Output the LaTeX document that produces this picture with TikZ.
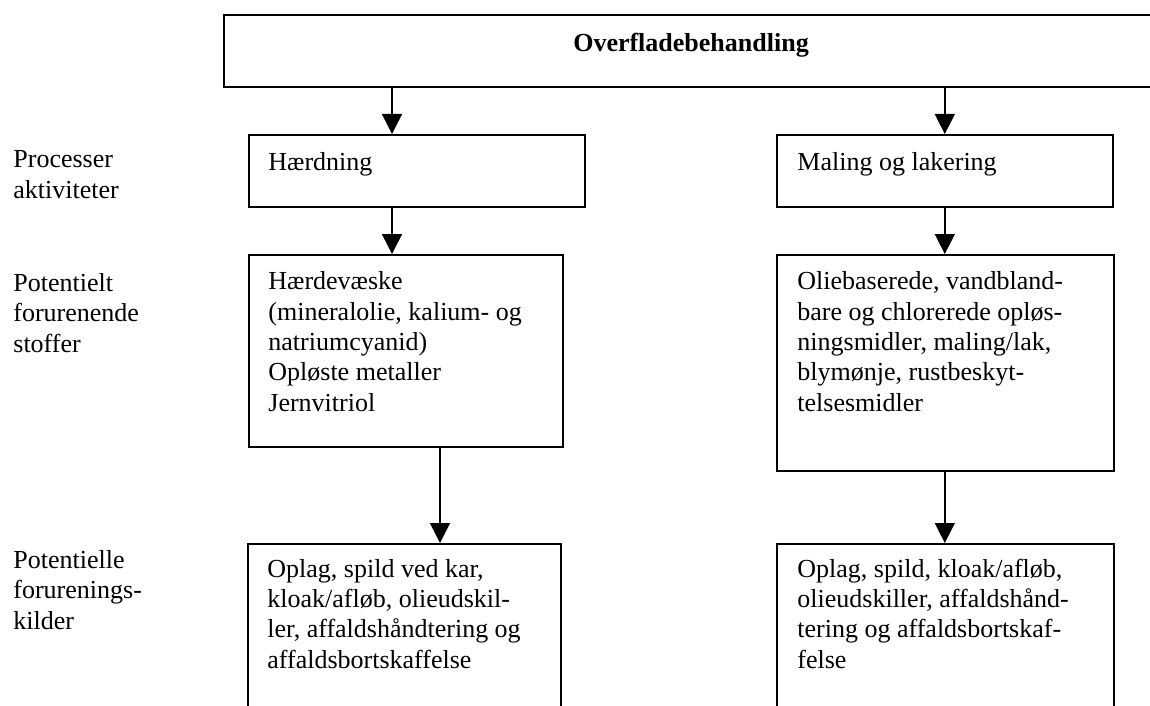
\documentclass[tikz,border=0pt]{standalone}
\usepackage{fontspec}
\setmainfont{Liberation Serif}
\usepackage{tikz}
\usetikzlibrary{arrows.meta, positioning}
\tikzset{
  box/.style={rectangle, draw=black, line width=0.8pt, inner sep=0pt,
    anchor=north west},
  txt/.style={inner sep=0pt, anchor=base west, align=left,
    font=\fontsize{13}{15.15}\selectfont},
  arrow/.style={-{Triangle[width=10pt, length=10pt]}, line width=0.75pt, color=black}
}

\begin{document}
\begin{tikzpicture}[x=0.5pt, y=-0.5pt]
  \useasboundingbox (0,0) rectangle (1150,706);
  \clip (0,0) rectangle (1150,706);

  % Boxes
  \node[box, minimum width=467pt, minimum height=36pt] (top) at (223,14) {};
  \node[box, minimum width=168pt, minimum height=36pt] (haerd) at (248,134) {};
  \node[box, minimum width=168pt, minimum height=36pt] (maling) at (776,134) {};
  \node[box, minimum width=157pt, minimum height=96pt] (stofL) at (248,254) {};
  \node[box, minimum width=168.5pt, minimum height=108pt] (stofR) at (776,254) {};
  \node[box, minimum width=156.5pt, minimum height=110pt] (kildL) at (247,543) {};
  \node[box, minimum width=168.5pt, minimum height=110pt] (kildR) at (776,543) {};

  % Texts in boxes (base = last line)
  \node[txt, anchor=base, font=\fontsize{13}{15.15}\selectfont\bfseries] (title) at (691,52) {Overfladebehandling};
  \node[txt] (haerdtxt) at (268,170) {Hærdning};
  \node[txt] (malingtxt) at (797,170) {Maling og lakering};
  \node[txt] (stofLtxt) at (268,411) {Hærdevæske\\(mineralolie, kalium- og\\natriumcyanid)\\Opløste metaller\\Jernvitriol};
  \node[txt] (stofRtxt) at (797,411) {Oliebaserede, vandbland-\\bare og chlorerede opløs-\\ningsmidler, maling/lak,\\blymønje, rustbeskyt-\\telsesmidler};
  \node[txt] (kildLtxt) at (267,668) {Oplag, spild ved kar,\\kloak/afløb, olieudskil-\\ler, affaldshåndtering og\\affaldsbortskaffelse};
  \node[txt] (kildRtxt) at (797,668) {Oplag, spild, kloak/afløb,\\olieudskiller, affaldshånd-\\tering og affaldsbortskaf-\\felse};

  % Row labels
  \node[txt] (rowproc) at (13,198) {Processer\\aktiviteter};
  \node[txt] (rowstof) at (13,352) {Potentielt\\forurenende\\stoffer};
  \node[txt] (rowkild) at (13,629) {Potentielle\\forurenings-\\kilder};

  % Arrows
  \coordinate (colL) at (392,0);
  \coordinate (colL2) at (440,0);
  \draw[arrow] (top.south -| colL) -- (haerd.north -| colL);
  \draw[arrow] (haerd.south -| colL) -- (stofL.north -| colL);
  \draw[arrow] (stofL.south -| colL2) -- (kildL.north -| colL2);
  \draw[arrow] (top.south -| maling.north) -- (maling.north);
  \draw[arrow] (maling.south) -- (stofR.north -| maling.south);
  \draw[arrow] (stofR.south -| maling.south) -- (kildR.north -| maling.south);
\end{tikzpicture}
\end{document}
